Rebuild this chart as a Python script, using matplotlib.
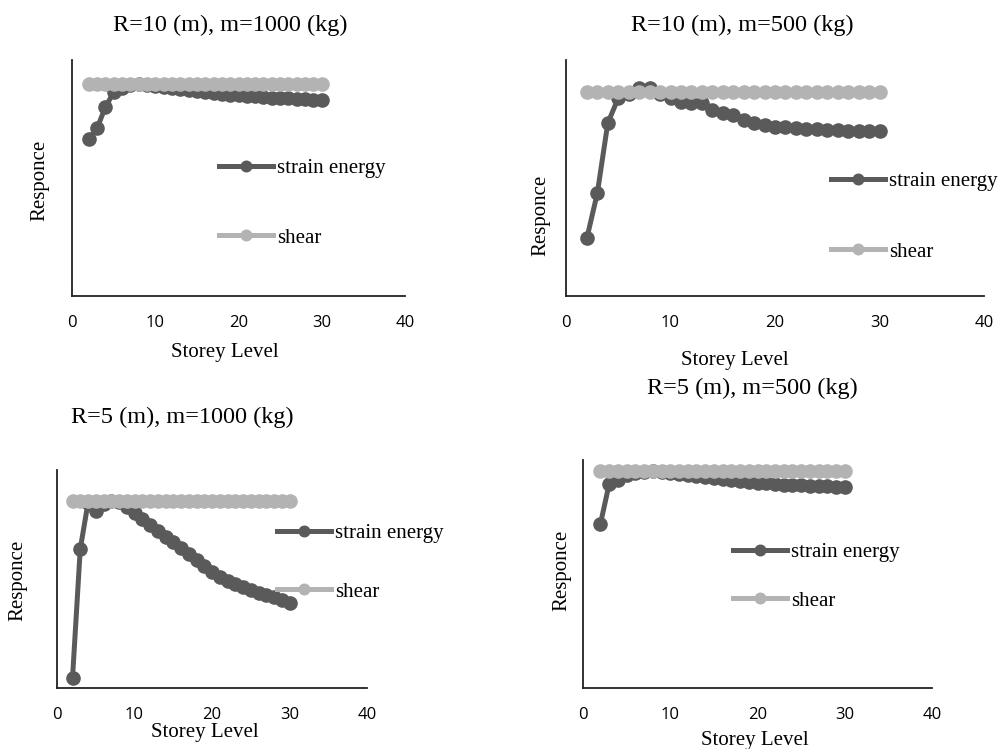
import matplotlib
matplotlib.use("Agg")
import matplotlib.pyplot as plt

# storey levels shared by every panel
storeys = list(range(2, 31))

titles = ["R=10 (m), m=1000 (kg)", "R=10 (m), m=500 (kg)",
          "R=5 (m), m=1000 (kg)", "R=5 (m), m=500 (kg)"]

shear = [1.0, 1.0, 1.0, 1.0, 1.0, 1.0, 1.0, 1.0, 1.0, 1.0,
         1.0, 1.0, 1.0, 1.0, 1.0, 1.0, 1.0, 1.0, 1.0, 1.0,
         1.0, 1.0, 1.0, 1.0, 1.0, 1.0, 1.0, 1.0, 1.0]

strain_r10_m1000 = [0.74, 0.79, 0.89, 0.96, 0.98, 0.995, 1.0, 0.995, 0.99, 0.985,
                    0.98, 0.975, 0.97, 0.966, 0.962, 0.958, 0.954, 0.95, 0.947, 0.944,
                    0.941, 0.938, 0.936, 0.934, 0.932, 0.93, 0.928, 0.926, 0.925]
strain_r10_m500 = [0.284, 0.505, 0.848, 0.97, 0.99, 1.02, 1.02, 0.99, 0.97, 0.95,
                   0.945, 0.945, 0.91, 0.895, 0.887, 0.863, 0.848, 0.838, 0.83, 0.83,
                   0.824, 0.82, 0.82, 0.814, 0.814, 0.81, 0.81, 0.81, 0.81]
strain_r5_m1000 = [0.053, 0.743, 0.99, 0.947, 0.985, 1.0, 0.995, 0.968, 0.936, 0.905,
                   0.872, 0.84, 0.807, 0.78, 0.749, 0.717, 0.684, 0.652, 0.62, 0.594,
                   0.57, 0.555, 0.54, 0.524, 0.51, 0.497, 0.487, 0.472, 0.455]
strain_r5_m500 = [0.756, 0.94, 0.96, 0.98, 0.99, 0.995, 1.0, 0.995, 0.99, 0.985,
                  0.98, 0.975, 0.97, 0.965, 0.961, 0.957, 0.953, 0.949, 0.945, 0.942,
                  0.939, 0.937, 0.935, 0.933, 0.931, 0.93, 0.929, 0.927, 0.926]
strains = [strain_r10_m1000, strain_r10_m500, strain_r5_m1000, strain_r5_m500]

xticks = [0, 10, 20, 30, 40]

W, H = 1001, 749
SERIF = "Liberation Serif"
DARK = "#5a5a5a"
LIGHT = "#b3b3b3"

# layout in pixels: axes box, y top, title, xlabel, ylabel, legend
boxes = [(72, 405, 296, 60), (566, 984, 296, 60), (57, 367, 688, 470), (583, 932, 688, 460)]
ytops = [1.113, 1.157, 1.166, 1.05]
title_pos = [(230, 25), (742, 25), (182, 417), (752, 388)]
xlab_pos = [(225, 353), (735, 360), (205, 733), (755, 740)]
ylab_pos = [(40, 180), (541, 215), (18, 580), (562, 570)]
leg_pos = [(219, 168, 238), (831, 181, 252), (277, 533, 592), (733, 552, 601)]

fig = plt.figure(figsize=(W / 100, H / 100), dpi=100)

for i in range(4):
    l, r, b, t = boxes[i]
    ax = fig.add_axes([l / W, 1 - b / H, (r - l) / W, (b - t) / H])
    ax.plot(storeys, strains[i], color=DARK, lw=3.6, marker="o", ms=9.5,
            label="strain energy", zorder=2)
    ax.plot(storeys, shear, color=LIGHT, lw=3.6, marker="o", ms=9.5,
            label="shear", zorder=3)
    ax.set_xlim(0, 40)
    ax.set_ylim(0, ytops[i])
    ax.set_xticks(xticks)
    ax.set_yticks([])
    ax.tick_params(length=0, pad=14)
    for lab in ax.get_xticklabels():
        lab.set_fontfamily("Open Sans")
        lab.set_fontsize(12)
    for s in ["top", "right"]:
        ax.spines[s].set_visible(False)
    for s in ["left", "bottom"]:
        ax.spines[s].set_color("#222222")
        ax.spines[s].set_linewidth(1.3)

    lx, y1, y2 = leg_pos[i]
    gap = y2 - y1
    ax.legend(loc="center left", bbox_to_anchor=(lx / W, 1 - (y1 + y2) / 2 / H),
              bbox_transform=fig.transFigure, frameon=False,
              prop={"family": SERIF, "size": 15}, handlelength=2.6,
              handletextpad=0.2, borderpad=0, borderaxespad=0,
              labelspacing=(gap - 20) / 20.8, markerscale=0.8)

    tx, ty = title_pos[i]
    fig.text(tx / W, 1 - ty / H, titles[i], ha="center", va="center",
             family=SERIF, fontsize=17.5)
    xx, xy = xlab_pos[i]
    fig.text(xx / W, 1 - xy / H, "Storey Level", ha="center", va="center",
             family=SERIF, fontsize=15)
    yx, yy = ylab_pos[i]
    fig.text(yx / W, 1 - yy / H, "Responce", ha="center", va="center",
             rotation=90, family=SERIF, fontsize=15)

fig.savefig("out.png", dpi=100)
